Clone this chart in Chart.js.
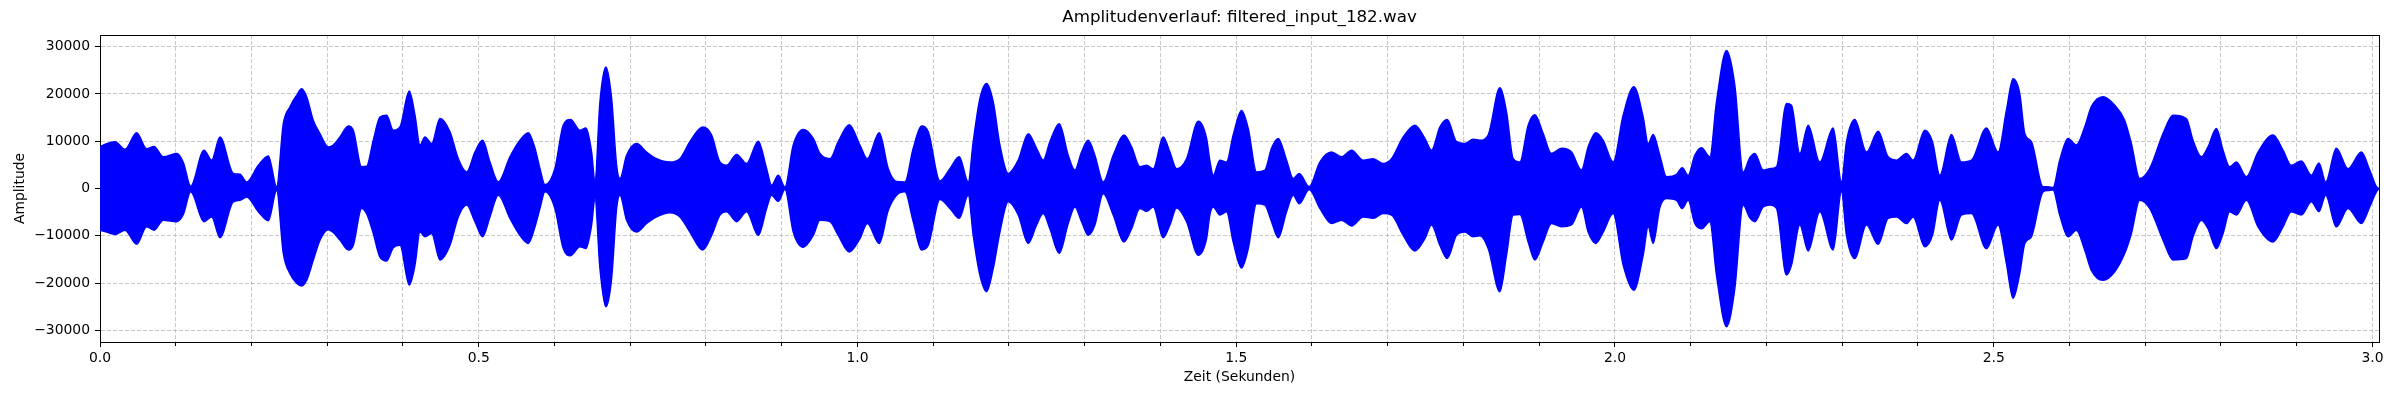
<!DOCTYPE html>
<html>
<head>
<meta charset="utf-8">
<script src="https://cdn.jsdelivr.net/npm/chart.js@4.4.1/dist/chart.umd.min.js"></script>
<style>
  html, body { margin: 0; padding: 0; background: #ffffff; }
  #wrap { width: 2400px; height: 400px; }
</style>
</head>
<body>
<div id="wrap"><canvas id="waveChart" width="2400" height="400"></canvas></div>
<script>
// Hüllkurve des Signals (Zeit in s, Amplitude oben / unten)
const times = [
  0.0000, 0.0088, 0.0198, 0.0330, 0.0484, 0.0616, 0.0713, 0.0836, 0.1012, 0.1100,
  0.1197, 0.1373, 0.1474, 0.1584, 0.1760, 0.1848, 0.1936, 0.2090, 0.2222, 0.2332,
  0.2420, 0.2508, 0.2596, 0.2662, 0.2728, 0.2816, 0.2904, 0.3014, 0.3080, 0.3168,
  0.3278, 0.3344, 0.3454, 0.3520, 0.3608, 0.3696, 0.3784, 0.3872, 0.3960, 0.4083,
  0.4158, 0.4224, 0.4290, 0.4378, 0.4488, 0.4620, 0.4730, 0.4840, 0.4950, 0.5051,
  0.5148, 0.5258, 0.5412, 0.5544, 0.5654, 0.5742, 0.5808, 0.5874, 0.6005, 0.6116,
  0.6213, 0.6336, 0.6415, 0.6490, 0.6534, 0.6600, 0.6679, 0.6754, 0.6820, 0.6864,
  0.6952, 0.7084, 0.7216, 0.7348, 0.7524, 0.7656, 0.7788, 0.7955, 0.8074, 0.8184,
  0.8272, 0.8404, 0.8536, 0.8690, 0.8800, 0.8866, 0.8954, 0.9042, 0.9152, 0.9284,
  0.9416, 0.9504, 0.9636, 0.9746, 0.9891, 1.0032, 1.0129, 1.0287, 1.0406, 1.0516,
  1.0626, 1.0736, 1.0846, 1.0934, 1.1088, 1.1220, 1.1343, 1.1462, 1.1528, 1.1616,
  1.1704, 1.1792, 1.1880, 1.1990, 1.2122, 1.2254, 1.2364, 1.2452, 1.2540, 1.2663,
  1.2782, 1.2870, 1.2958, 1.3046, 1.3134, 1.3244, 1.3376, 1.3517, 1.3618, 1.3728,
  1.3816, 1.3904, 1.4036, 1.4124, 1.4212, 1.4344, 1.4498, 1.4608, 1.4652, 1.4696,
  1.4784, 1.4872, 1.4960, 1.5070, 1.5158, 1.5268, 1.5378, 1.5466, 1.5554, 1.5664,
  1.5752, 1.5831, 1.5963, 1.6104, 1.6258, 1.6390, 1.6522, 1.6676, 1.6808, 1.6940,
  1.7050, 1.7204, 1.7358, 1.7490, 1.7578, 1.7688, 1.7785, 1.7908, 1.8018, 1.8128,
  1.8216, 1.8326, 1.8480, 1.8568, 1.8656, 1.8744, 1.8854, 1.8942, 1.9052, 1.9162,
  1.9294, 1.9426, 1.9558, 1.9646, 1.9747, 1.9844, 1.9976, 2.0108, 2.0249, 2.0372,
  2.0438, 2.0504, 2.0592, 2.0680, 2.0812, 2.0887, 2.0966, 2.1054, 2.1142, 2.1252,
  2.1340, 2.1472, 2.1582, 2.1692, 2.1780, 2.1846, 2.1956, 2.2044, 2.2132, 2.2264,
  2.2330, 2.2440, 2.2550, 2.2704, 2.2880, 2.2990, 2.3056, 2.3166, 2.3320, 2.3474,
  2.3606, 2.3716, 2.3848, 2.3936, 2.4090, 2.4191, 2.4288, 2.4442, 2.4574, 2.4706,
  2.4904, 2.5058, 2.5167, 2.5255, 2.5343, 2.5410, 2.5497, 2.5651, 2.5717, 2.5783,
  2.5871, 2.5981, 2.6091, 2.6201, 2.6289, 2.6443, 2.6597, 2.6729, 2.6817, 2.6927,
  2.7059, 2.7235, 2.7367, 2.7543, 2.7631, 2.7741, 2.7829, 2.7939, 2.8027, 2.8115,
  2.8203, 2.8335, 2.8489, 2.8687, 2.8819, 2.8929, 2.9061, 2.9193, 2.9294, 2.9382,
  2.9523, 2.9677, 2.9853, 2.9963, 3.0051, 3.0086
];

const upperEnv = [
  8800, 9500, 9900, 8300, 11800, 8400, 8900, 6700, 7400, 5500,
  500, 8100, 6000, 10900, 3200, 3000, 1400, 4900, 6900, 400,
  13700, 17300, 19700, 21100, 19400, 14400, 11600, 8800, 9200, 10900,
  13200, 12300, 4600, 4700, 10200, 15100, 15500, 12300, 13000, 20600,
  15500, 9200, 10900, 9500, 14800, 12000, 6300, 3500, 7700, 10200,
  5600, 1400, 6700, 10200, 11800, 8500, 4200, 800, 4200, 13400,
  14600, 12300, 12800, 7700, 1400, 18300, 25700, 19000, 4900, 2100,
  7000, 9500, 7700, 6300, 5600, 6300, 9900, 13000, 11300, 5600,
  4900, 7200, 5300, 10000, 4200, 700, 2800, 300, 9200, 12500,
  10600, 7400, 6300, 9900, 13500, 9200, 6300, 11800, 4200, 1500,
  1400, 8500, 13200, 12000, 1600, 4200, 6700, 1400, 9900, 19000,
  22200, 18300, 9200, 3200, 6000, 11600, 8500, 6000, 9900, 13700,
  7000, 3900, 7700, 10200, 7000, 1400, 7000, 11300, 8800, 4600,
  4900, 4200, 10900, 7700, 4200, 6300, 14200, 10600, 5800, 2800,
  6000, 5600, 11300, 16500, 12700, 3500, 3900, 8500, 10600, 6000,
  2100, 3200, 400, 5600, 7700, 6700, 8100, 6000, 6300, 5300,
  6300, 10900, 13400, 10600, 8100, 13000, 14600, 9900, 9500, 10400,
  10200, 11300, 21300, 16200, 6300, 5600, 13400, 15600, 11600, 7400,
  8500, 7700, 3900, 8800, 11800, 10200, 5600, 15500, 21500, 15100,
  9500, 11400, 7000, 2500, 3000, 4400, 2800, 7000, 8600, 6700,
  18300, 29200, 21800, 3500, 6500, 7400, 3900, 4200, 4600, 18000,
  17600, 7400, 13400, 5600, 12800, 1400, 9900, 14600, 7700, 12100,
  6700, 6000, 7400, 6000, 12300, 9900, 2800, 11400, 5600, 6000,
  12800, 7700, 16500, 23200, 20100, 11600, 9900, 400, 400, 200,
  6000, 10600, 9200, 13000, 17300, 19400, 17600, 14400, 9500, 2100,
  4200, 11600, 15500, 14800, 10200, 6700, 8800, 12700, 8100, 4600,
  5600, 2500, 7700, 11300, 8100, 4900, 5800, 2800, 5400, 1400,
  8500, 4200, 7700, 3900, 400, 0
];

const lowerEnv = [
  -8800, -9200, -9700, -8800, -11800, -8100, -8800, -6700, -7000, -5500,
  -700, -7000, -6000, -10400, -2800, -2500, -1800, -4900, -6800, -400,
  -13700, -18000, -20000, -20600, -19400, -15100, -10900, -8700, -9300, -10900,
  -13000, -12000, -4200, -5300, -9500, -14500, -15300, -12500, -12000, -20400,
  -16200, -9200, -10200, -9500, -15100, -12000, -6000, -3500, -7000, -10200,
  -6000, -1400, -6300, -9900, -11600, -8100, -4200, -700, -4200, -12700,
  -14200, -12300, -12700, -7700, -2100, -16900, -25000, -19000, -4200, -1400,
  -6700, -9200, -7400, -6000, -5100, -6000, -9200, -13000, -9900, -5600,
  -4900, -7000, -4900, -9900, -4200, -1400, -2700, -200, -9200, -12400,
  -9900, -6700, -7000, -9900, -13400, -10600, -7400, -11600, -4600, -1400,
  -700, -7000, -13000, -12000, -2300, -4200, -6300, -1400, -9900, -18300,
  -21800, -16900, -9200, -2800, -5600, -11600, -7700, -5300, -8500, -13700,
  -7400, -3900, -7000, -9900, -7700, -1100, -5600, -11300, -8500, -4200,
  -4800, -3900, -10400, -7700, -4100, -7000, -14100, -10600, -5500, -3900,
  -5600, -4900, -11300, -16800, -12700, -3200, -3500, -7000, -10400, -4900,
  -1400, -3200, -200, -4200, -7400, -6700, -7900, -6000, -6300, -5300,
  -5600, -9900, -13200, -10600, -7700, -12000, -14800, -9900, -9200, -10200,
  -10000, -12700, -21800, -14100, -5600, -5500, -11300, -15100, -11300, -7400,
  -8100, -7700, -3900, -9200, -11600, -9200, -5300, -16200, -21500, -14100,
  -8100, -11600, -4000, -2100, -2500, -4200, -2500, -7400, -8500, -7000,
  -18300, -29200, -21100, -3500, -6200, -7000, -3900, -3500, -4200, -18300,
  -16200, -7700, -13200, -4900, -13000, -700, -9900, -14800, -7700, -11800,
  -6300, -6000, -7400, -6000, -12300, -9900, -2500, -10900, -5600, -5300,
  -12700, -7700, -15800, -23200, -18000, -11600, -10200, -700, -400, -300,
  -5600, -10200, -8800, -13000, -17300, -19400, -17600, -13700, -9500, -2500,
  -4200, -10900, -15100, -14800, -10200, -6700, -8500, -12700, -9500, -4900,
  -5600, -2500, -8100, -11300, -8100, -4900, -5600, -2800, -4900, -1400,
  -8100, -4200, -7400, -3900, -700, 0
];

// Achsen
const yTicks = [-30000, -20000, -10000, 0, 10000, 20000, 30000];
const xTicks = [
  0.0, 0.1, 0.2, 0.3, 0.4, 0.5, 0.6, 0.7, 0.8, 0.9, 1.0, 1.1, 1.2, 1.3, 1.4, 1.5,
  1.6, 1.7, 1.8, 1.9, 2.0, 2.1, 2.2, 2.3, 2.4, 2.5, 2.6, 2.7, 2.8, 2.9, 3.0
];
const xMax = 3.0086;
const yLimit = 32450;

const FONT_FAMILY = "'DejaVu Sans', 'Liberation Sans', sans-serif";
const gridColor = 'rgba(176, 176, 176, 0.7)';
const waveColor = '#0000ff';

Chart.defaults.font.family = FONT_FAMILY;
Chart.defaults.color = '#000000';

function isMajorX(v) {
  return Math.round(v * 10) % 5 === 0;
}

function toPoints(values) {
  return times.map((t, i) => ({ x: t, y: values[i] }));
}

const ctx = document.getElementById('waveChart').getContext('2d');

new Chart(ctx, {
  type: 'line',
  data: {
    datasets: [
      {
        label: 'oben',
        data: toPoints(upperEnv),
        borderColor: waveColor,
        backgroundColor: waveColor,
        borderWidth: 1.5,
        pointRadius: 0,
        fill: '+1',
        cubicInterpolationMode: 'monotone',
        xAxisID: 'x',
        yAxisID: 'y'
      },
      {
        label: 'unten',
        data: toPoints(lowerEnv),
        borderColor: waveColor,
        backgroundColor: waveColor,
        borderWidth: 1.5,
        pointRadius: 0,
        fill: false,
        cubicInterpolationMode: 'monotone',
        xAxisID: 'x',
        yAxisID: 'y'
      }
    ]
  },
  options: {
    responsive: false,
    animation: false,
    devicePixelRatio: 1,
    layout: { padding: 0 },
    plugins: {
      legend: { display: false },
      tooltip: { enabled: false },
      title: {
        display: true,
        text: 'Amplitudenverlauf: filtered_input_182.wav',
        color: '#000000',
        fullSize: false,
        font: { size: 16.7, weight: 'normal', family: FONT_FAMILY },
        padding: { top: 8, bottom: 7 }
      }
    },
    scales: {
      x: {
        type: 'linear',
        position: 'bottom',
        min: 0,
        max: xMax,
        afterBuildTicks: s => { s.ticks = xTicks.map(v => ({ value: v })); },
        ticks: {
          autoSkip: false,
          maxRotation: 0,
          padding: 3,
          font: { size: 13.9 },
          callback: v => isMajorX(v) ? v.toFixed(1) : ''
        },
        grid: {
          color: gridColor,
          lineWidth: 1,
          tickLength: 5,
          tickColor: '#000000',
          tickWidth: 1,
          tickBorderDash: c => (c.tick && !isMajorX(c.tick.value)) ? [3, 20] : []
        },
        border: { display: true, color: '#000000', width: 1, dash: [4, 2] },
        title: {
          display: true,
          text: 'Zeit (Sekunden)',
          font: { size: 13.9 },
          padding: { top: 0, bottom: 14 }
        },
        afterFit: s => { s.height = 58; }
      },
      y: {
        type: 'linear',
        position: 'left',
        min: -yLimit,
        max: yLimit,
        afterBuildTicks: s => { s.ticks = yTicks.map(v => ({ value: v })); },
        ticks: {
          autoSkip: false,
          padding: 5,
          font: { size: 13.9 },
          callback: v => v < 0 ? '\u2212' + Math.abs(v) : String(v)
        },
        grid: {
          color: gridColor,
          lineWidth: 1,
          tickLength: 5,
          tickColor: '#000000',
          tickWidth: 1
        },
        border: { display: true, color: '#000000', width: 1, dash: [4, 2] },
        title: {
          display: true,
          text: 'Amplitude',
          font: { size: 13.9 },
          padding: { top: 12, bottom: 0 }
        },
        afterFit: s => { s.width = 100; }
      },
      xTop: {
        type: 'linear',
        position: 'top',
        min: 0,
        max: 1,
        ticks: { display: false },
        grid: { display: false, drawTicks: false },
        border: { display: true, color: '#000000', width: 1 },
        afterFit: s => { s.height = 0; }
      },
      yRight: {
        type: 'linear',
        position: 'right',
        min: 0,
        max: 1,
        ticks: { display: false },
        grid: { display: false, drawTicks: false },
        border: { display: true, color: '#000000', width: 1 },
        afterFit: s => { s.width = 21; }
      }
    }
  }
});
</script>
</body>
</html>
